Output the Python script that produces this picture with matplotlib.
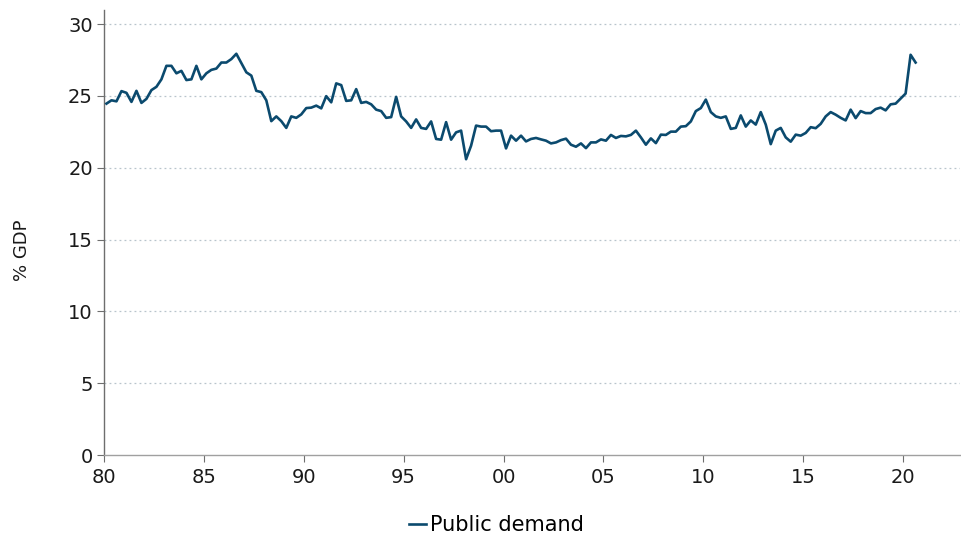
import matplotlib.pyplot as plt
import numpy as np

# Public demand, % of GDP, quarterly from 1980Q1 to 2020Q3
public_demand = [
    24.46, 24.69, 24.62, 25.33, 25.21, 24.58, 25.35, 24.51, 24.79, 25.40,
    25.63, 26.15, 27.09, 27.09, 26.57, 26.74, 26.10, 26.15, 27.09, 26.15,
    26.57, 26.81, 26.90, 27.32, 27.32, 27.56, 27.93, 27.28, 26.64, 26.41,
    25.35, 25.26, 24.69, 23.24, 23.57, 23.24, 22.77, 23.57, 23.47, 23.71,
    24.15, 24.18, 24.32, 24.13, 24.98, 24.55, 25.87, 25.75, 24.65, 24.69,
    25.47, 24.51, 24.58, 24.41, 24.04, 23.94, 23.47, 23.52, 24.93, 23.57,
    23.22, 22.77, 23.36, 22.77, 22.70, 23.22, 22.00, 21.95, 23.17, 21.95,
    22.46, 22.58, 20.59, 21.53, 22.93, 22.86, 22.86, 22.54, 22.58, 22.58,
    21.34, 22.23, 21.88, 22.23, 21.83, 22.00, 22.07, 21.97, 21.88, 21.69,
    21.76, 21.92, 22.02, 21.60, 21.46, 21.69, 21.36, 21.76, 21.76, 21.97,
    21.88, 22.28, 22.07, 22.21, 22.18, 22.28, 22.58, 22.11, 21.60, 22.04,
    21.71, 22.30, 22.28, 22.51, 22.51, 22.86, 22.89, 23.22, 23.94, 24.15,
    24.74, 23.87, 23.57, 23.47, 23.57, 22.70, 22.77, 23.64, 22.86, 23.29,
    23.00, 23.87, 23.00, 21.64, 22.58, 22.77, 22.11, 21.81, 22.30, 22.23,
    22.42, 22.82, 22.75, 23.05, 23.57, 23.87, 23.69, 23.47, 23.29, 24.04,
    23.45, 23.94, 23.80, 23.80, 24.08, 24.18, 23.99, 24.41, 24.46, 24.81,
    25.16, 27.86, 27.32,
]
start_year = 1980
x_ticks = [1980, 1985, 1990, 1995, 2000, 2005, 2010, 2015, 2020]
x_tick_labels = ["80", "85", "90", "95", "00", "05", "10", "15", "20"]
y_ticks = [0, 5, 10, 15, 20, 25, 30]

# Mid-quarter positions
t = start_year + (np.arange(len(public_demand)) + 0.5) / 4

fig = plt.figure(figsize=(9.61, 5.37), dpi=100)
ax = fig.add_axes([0.1082, 0.1527, 0.8908, 0.8293])

line_color = "#0b4a6e"
ax.plot(t, public_demand, color=line_color, lw=1.9, label="Public demand",
        solid_joinstyle="round", zorder=3)

ax.set_xlim(1980, 2022.85)
ax.set_ylim(0, 31)
ax.set_xticks(x_ticks)
ax.set_xticklabels(x_tick_labels)
ax.set_yticks(y_ticks)

# Dotted horizontal gridlines
for y in y_ticks[1:]:
    ax.axhline(y, color="#b8c4cc", lw=0.9, ls=(0, (1.5, 2.5)), zorder=1)

for side in ["top", "right"]:
    ax.spines[side].set_visible(False)
ax.spines["left"].set_color("#6e6e6e")
ax.spines["bottom"].set_color("#a0a0a0")
ax.spines["left"].set_linewidth(1.0)
ax.spines["bottom"].set_linewidth(1.0)

ax.tick_params(axis="both", direction="out", length=5, width=0.8,
               colors="#6e6e6e", labelcolor="#1a1a1a", labelsize=14)
ax.tick_params(axis="x", pad=4)
ax.tick_params(axis="y", pad=3)

ax.set_ylabel("% GDP", fontsize=13, color="#1a1a1a")
ax.yaxis.set_label_coords(-0.085, 0.46)

fig.legend(loc="center", bbox_to_anchor=(0.517, 0.022), frameon=False,
           fontsize=15, handlelength=0.8, handletextpad=0.2)

fig.savefig("out.png", dpi=100)
